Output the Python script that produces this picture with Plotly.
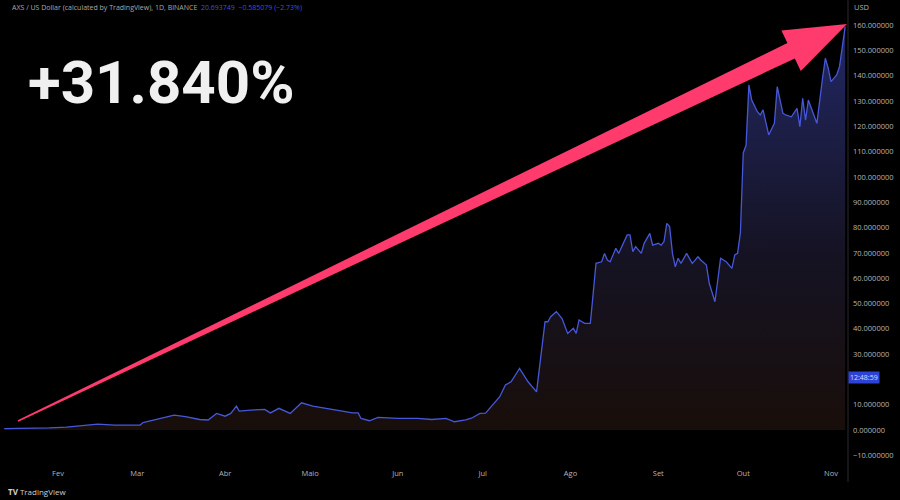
import plotly.graph_objects as go

# ---- data ----
dates = [
    "2021-01-13", "2021-01-23", "2021-01-29", "2021-02-04", "2021-02-08", "2021-02-12",
    "2021-02-15", "2021-02-21", "2021-03-02", "2021-03-03", "2021-03-07", "2021-03-11",
    "2021-03-14", "2021-03-18", "2021-03-23", "2021-03-26", "2021-03-29", "2021-04-01",
    "2021-04-03", "2021-04-05", "2021-04-06", "2021-04-10", "2021-04-15", "2021-04-17",
    "2021-04-20", "2021-04-24", "2021-04-28", "2021-05-02", "2021-05-07", "2021-05-11",
    "2021-05-16", "2021-05-18", "2021-05-19", "2021-05-22", "2021-05-25", "2021-06-01",
    "2021-06-08", "2021-06-13", "2021-06-18", "2021-06-21", "2021-06-25", "2021-06-27",
    "2021-06-30", "2021-07-02", "2021-07-04", "2021-07-07", "2021-07-09", "2021-07-11",
    "2021-07-14", "2021-07-17", "2021-07-20", "2021-07-21", "2021-07-23", "2021-07-24",
    "2021-07-25", "2021-07-27", "2021-07-29", "2021-07-31", "2021-08-02", "2021-08-03",
    "2021-08-04", "2021-08-06", "2021-08-08", "2021-08-09", "2021-08-10", "2021-08-12",
    "2021-08-13", "2021-08-14", "2021-08-15", "2021-08-17", "2021-08-18", "2021-08-21",
    "2021-08-22", "2021-08-23", "2021-08-24", "2021-08-26", "2021-08-27", "2021-08-29",
    "2021-08-30", "2021-09-01", "2021-09-02", "2021-09-03", "2021-09-04", "2021-09-05",
    "2021-09-06", "2021-09-07", "2021-09-08", "2021-09-09", "2021-09-11", "2021-09-13",
    "2021-09-15", "2021-09-16", "2021-09-18", "2021-09-19", "2021-09-21", "2021-09-22",
    "2021-09-23", "2021-09-25", "2021-09-27", "2021-09-28", "2021-09-29", "2021-09-30",
    "2021-10-01", "2021-10-02", "2021-10-03", "2021-10-04", "2021-10-06", "2021-10-07",
    "2021-10-08", "2021-10-10", "2021-10-12", "2021-10-13", "2021-10-15", "2021-10-16",
    "2021-10-18", "2021-10-20", "2021-10-21", "2021-10-22", "2021-10-23", "2021-10-24",
    "2021-10-26", "2021-10-27", "2021-10-29", "2021-10-30", "2021-10-31", "2021-11-01",
    "2021-11-03", "2021-11-04", "2021-11-05", "2021-11-06",
]
prices = [
    0.6, 0.7, 0.9, 1.2, 1.6, 2.0,
    2.4, 2.0, 2.0, 3.0, 4.0, 5.0,
    5.9, 5.3, 4.2, 4.0, 6.6, 5.5,
    6.6, 9.5, 7.5, 7.9, 8.2, 6.8,
    8.6, 6.6, 10.8, 9.5, 8.6, 7.6,
    6.8, 6.8, 4.6, 3.7, 5.0, 4.6,
    4.6, 4.2, 4.6, 3.3, 4.0, 4.7,
    6.6, 6.7, 9.2, 13.2, 17.8, 19.1,
    24.4, 19.1, 15.1, 25.0, 42.8, 42.8,
    44.8, 46.8, 44.1, 38.2, 40.2, 38.2,
    43.5, 42.2, 42.2, 54.0, 65.9, 66.5,
    69.8, 67.2, 66.5, 71.8, 69.8, 77.1,
    77.1, 70.5, 72.5, 69.8, 73.8, 77.7,
    73.1, 73.8, 73.1, 74.4, 81.7, 80.4,
    69.8, 64.5, 67.9, 65.9, 69.8, 65.9,
    68.5, 67.2, 65.2, 58.0, 50.7, 59.3,
    67.9, 66.5, 63.9, 69.2, 69.8, 78.0,
    109.5, 112.5, 136.4, 130.4, 125.8, 124.5,
    126.5, 116.6, 121.2, 135.7, 125.2, 124.5,
    123.8, 127.1, 119.9, 131.1, 122.5, 130.4,
    123.8, 121.2, 139.0, 146.9, 143.0, 137.7,
    140.3, 143.6, 151.5, 159.4,
]
month_ticks = ["2021-02-01", "2021-03-01", "2021-04-01", "2021-05-01", "2021-06-01",
               "2021-07-01", "2021-08-01", "2021-09-01", "2021-10-01", "2021-11-01"]
month_labels = ["Fev", "Mar", "Abr", "Maio", "Jun", "Jul", "Ago", "Set", "Out", "Nov"]
y_ticks = [-10, 0, 10, 30, 40, 50, 60, 70, 80, 90, 100, 110, 120, 130, 140, 150, 160]
title_text = "AXS / US Dollar (calculated by TradingView), 1D, BINANCE"
quote_text = "20.693749  −0.585079 (−2.73%)"
big_text = "+31.840%"
price_tag = "12:48:59"
price_tag_value = 20.7

# ---- layout geometry (pixels) ----
W, H = 900, 500
ML, MR, MT, MB = 0, 52, 15, 38
PW, PH = W - ML - MR, H - MT - MB


def px(x):
    return (x - ML) / PW


def py(y):
    return 1 - (y - MT) / PH


fig = go.Figure()
fig.add_trace(go.Scatter(
    x=dates, y=prices, mode="lines",
    line=dict(color="#4658d8", width=1.3),
    fill="tozeroy",
    fillgradient=dict(type="vertical", colorscale=[
        [0.0, "rgba(24,14,10,1)"],
        [0.45, "rgba(21,19,36,1)"],
        [1.0, "rgba(34,40,100,1)"],
    ]),
    hoverinfo="skip", showlegend=False,
))

# arrow (pixel polygon -> paper coords)
arrow_pts = [(17.7, 420.3), (787.4, 43.1), (781.4, 30.6), (847.0, 24.0),
             (800.8, 71.0), (794.8, 58.5), (18.3, 421.7)]
path = "M " + " L ".join(f"{px(x):.5f},{py(y):.5f}" for x, y in arrow_pts) + " Z"
fig.add_shape(type="path", path=path, xref="paper", yref="paper",
              fillcolor="#ff3a6d", line=dict(width=0), layer="above")

# vertical separator of price scale
fig.add_shape(type="line", xref="paper", yref="paper", x0=1, x1=1,
              y0=py(482), y1=py(0), line=dict(color="#2a2a2e", width=1))

header = (f"{title_text}&nbsp;&nbsp;"
          f"<span style='color:#3f52d8'>{quote_text}</span>")
annotations = [
    dict(text=header, x=px(10), y=py(8), xanchor="left", yanchor="middle",
         font=dict(size=7, color="#a9a9a9", family="Open Sans")),
    dict(text="USD", x=px(852), y=py(7), xanchor="left", yanchor="middle",
         font=dict(size=7.5, color="#b0b0b0", family="Open Sans")),
    dict(text=f"<b>{big_text}</b>", x=px(26), y=py(82), xanchor="left", yanchor="middle",
         font=dict(size=60, color="#f0f0f0", family="Roboto", weight=900)),
    dict(text="<b>TV</b> TradingView", x=px(6), y=py(491), xanchor="left", yanchor="middle",
         font=dict(size=8, color="#cfcfcf", family="Open Sans")),
    dict(text=price_tag, x=1, xref="paper", y=price_tag_value, yref="y",
         xanchor="left", yanchor="middle", bgcolor="#2e43d6", borderpad=1,
         font=dict(size=7, color="#d8dcff", family="Open Sans")),
]
for a in annotations:
    a.setdefault("xref", "paper")
    a.setdefault("yref", "paper")
    a["showarrow"] = False
fig.update_layout(annotations=annotations)

fig.update_layout(
    width=W, height=H,
    margin=dict(l=ML, r=MR, t=MT, b=MB),
    paper_bgcolor="#000000", plot_bgcolor="#000000",
    xaxis=dict(range=["2021-01-11 12:00", "2021-11-07"], tickvals=month_ticks,
               ticktext=month_labels, showgrid=False, zeroline=False, showline=False,
               ticks="", ticklabelstandoff=5,
               tickfont=dict(size=7.5, color="#b5b5b5", family="Open Sans")),
    yaxis=dict(range=[-12.6, 164], side="right", tickvals=y_ticks, tickformat=".6f",
               showgrid=False, zeroline=False, showline=False, ticks="",
               ticklabelstandoff=4,
               tickfont=dict(size=7.5, color="#b5b5b5", family="Open Sans")),
    showlegend=False,
)

fig.write_html(
    "out.html",
    config={"displayModeBar": False},
    post_script="document.body.style.margin='0';document.body.style.background='#000';",
)
